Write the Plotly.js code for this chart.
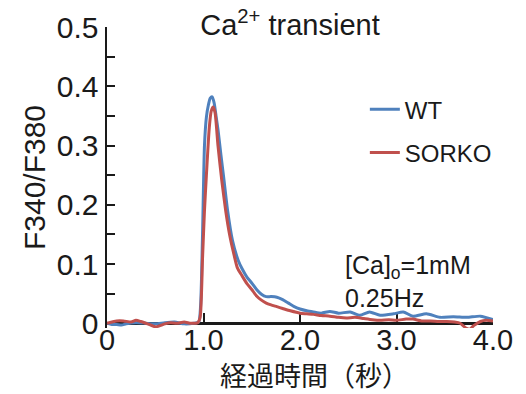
<!DOCTYPE html>
<html>
<head>
<meta charset="utf-8">
<script src="https://cdn.plot.ly/plotly-3.0.1.min.js"></script>
<style>
  html, body { margin: 0; padding: 0; background: #ffffff; }
  #chart { width: 526px; height: 394px; }
</style>
</head>
<body>
<div id="chart"></div>
<script>
// ---- data ----
const seriesNames = ["WT", "SORKO"];

const wtTime = [0, 0.05, 0.1, 0.15, 0.2, 0.3, 0.4, 0.5, 0.6, 0.7, 0.8, 0.9, 0.95,
  0.97, 0.99, 1.01, 1.03, 1.05, 1.07, 1.09, 1.11, 1.13, 1.15, 1.18, 1.21, 1.25,
  1.30, 1.36, 1.40, 1.45, 1.50, 1.55, 1.60, 1.65, 1.70, 1.76, 1.82, 1.88, 1.94,
  2.00, 2.07, 2.14, 2.22, 2.31, 2.40, 2.52, 2.62, 2.72, 2.83, 2.97, 3.07, 3.17,
  3.31, 3.45, 3.59, 3.73, 3.87, 4.00];
const wtRatio = [0.000, -0.002, -0.002, -0.003, -0.001, 0.001, 0.000, -0.001, 0.001, 0.002, -0.001, 0.000, 0.002,
  0.030, 0.150, 0.300, 0.348, 0.368, 0.380, 0.382, 0.372, 0.350, 0.327, 0.285, 0.245, 0.190,
  0.140, 0.106, 0.092, 0.078, 0.068, 0.057, 0.049, 0.045, 0.045, 0.044, 0.040, 0.034, 0.028,
  0.024, 0.021, 0.019, 0.017, 0.020, 0.017, 0.019, 0.0135, 0.019, 0.0135, 0.016, 0.019, 0.012,
  0.016, 0.010, 0.011, 0.010, 0.012, 0.006];

const koTime = [0, 0.05, 0.1, 0.17, 0.25, 0.3, 0.35, 0.42, 0.5, 0.55, 0.6, 0.66, 0.72, 0.8, 0.87, 0.94,
  0.965, 0.99, 1.01, 1.03, 1.06, 1.08, 1.10, 1.12, 1.15, 1.19, 1.23, 1.27, 1.31, 1.35,
  1.40, 1.45, 1.50, 1.55, 1.60, 1.65, 1.70, 1.76, 1.82, 1.90, 2.00, 2.07, 2.14, 2.22,
  2.31, 2.40, 2.48, 2.57, 2.66, 2.75, 2.83, 2.92, 3.00, 3.10, 3.17, 3.26, 3.35, 3.44,
  3.52, 3.60, 3.66, 3.72, 3.76, 3.80, 3.87, 3.93, 4.00];
const koRatio = [0.000, 0.002, 0.004, 0.004, 0.002, 0.005, 0.003, -0.001, -0.006, -0.004, -0.001, 0.001, 0.000, 0.002, 0.000, 0.001,
  0.010, 0.110, 0.190, 0.250, 0.330, 0.358, 0.365, 0.355, 0.300, 0.240, 0.190, 0.150, 0.120, 0.094,
  0.080, 0.067, 0.057, 0.046, 0.039, 0.034, 0.031, 0.028, 0.025, 0.021, 0.017, 0.016, 0.015, 0.013,
  0.012, 0.010, 0.009, 0.010, 0.008, 0.006, 0.005, 0.006, 0.005, 0.007, 0.007, 0.004, 0.004, 0.003,
  0.003, 0.002, 0.000, -0.008, -0.010, -0.004, 0.003, 0.005, 0.004];

const xTickVals = [0, 1, 2, 3, 4];
const xTickText = ["0", "1.0", "2.0", "3.0", "4.0"];
const yTickVals = [0, 0.1, 0.2, 0.3, 0.4, 0.5];
const yTickText = ["0", "0.1", "0.2", "0.3", "0.4", "0.5"];

const titleText = "Ca<sup>2+</sup> transient";
const xTitle = "経過時間（秒）";
const yTitle = "F340/F380";
const noteText = "[Ca]<sub>o</sub>=1mM<br>0.25Hz";

// ---- chart ----
const ink = "#1a1a1a";
const sans = "Liberation Sans, Arial, sans-serif";
const yMin = -0.008, yMax = 0.5;

const traces = [
  { x: wtTime, y: wtRatio, name: seriesNames[0], type: "scatter", mode: "lines",
    legendgroup: "a",
    line: { color: "#4F81BD", width: 3, shape: "spline", smoothing: 0.6 } },
  { x: koTime, y: koRatio, name: seriesNames[1], type: "scatter", mode: "lines",
    legendgroup: "b",
    line: { color: "#C0504D", width: 3, shape: "spline", smoothing: 0.6 } }
];

const layout = {
  width: 526, height: 394,
  margin: { l: 107, r: 33, t: 27, b: 66 },
  paper_bgcolor: "#ffffff", plot_bgcolor: "#ffffff",
  font: { family: sans, color: ink },
  title: { text: titleText, font: { family: sans, size: 29, color: ink },
           x: 290 / 526, xref: "container", xanchor: "center",
           y: 1 - 25 / 394, yref: "container", yanchor: "middle" },
  showlegend: true,
  legend: { x: 0.668, xanchor: "left", y: 0.80, yanchor: "top",
            font: { family: sans, size: 24, color: ink },
            bgcolor: "rgba(0,0,0,0)", tracegroupgap: 9, itemwidth: 30 },
  xaxis: {
    range: [0, 4], anchor: "free", position: (0 - yMin) / (yMax - yMin),
    showgrid: false, zeroline: false,
    showline: true, linecolor: ink, linewidth: 2.5,
    ticks: "inside", ticklen: 9, tickwidth: 2, tickcolor: ink,
    tickvals: xTickVals, ticktext: xTickText,
    tickfont: { family: sans, size: 29, color: ink },
    ticklabelstandoff: -10,
    layer: "below traces"
  },
  yaxis: {
    range: [yMin, yMax],
    showgrid: false, zeroline: false,
    showline: true, linecolor: ink, linewidth: 2.5,
    ticks: "inside", ticklen: 8, tickwidth: 2, tickcolor: ink,
    tickvals: yTickVals, ticktext: yTickText,
    tickfont: { family: sans, size: 30, color: ink },
    minor: { tickvals: [0.05, 0.15, 0.25, 0.35, 0.45], ticks: "inside", ticklen: 8, tickwidth: 2, tickcolor: ink },
    layer: "below traces",
    title: { text: yTitle, font: { family: sans, size: 30, color: ink }, standoff: 3 }
  },
  annotations: [
    { text: xTitle, xref: "paper", yref: "paper", x: 0.537, y: -0.156,
      xanchor: "center", yanchor: "middle", showarrow: false,
      font: { family: "Noto Sans CJK JP, sans-serif", size: 27, color: ink } },
    { text: noteText, xref: "x", yref: "y", x: 2.45, y: 0.071,
      xanchor: "left", yanchor: "middle", align: "left", showarrow: false,
      font: { family: sans, size: 25, color: ink } }
  ]
};

Plotly.newPlot("chart", traces, layout, { staticPlot: true, displayModeBar: false });
</script>
</body>
</html>
